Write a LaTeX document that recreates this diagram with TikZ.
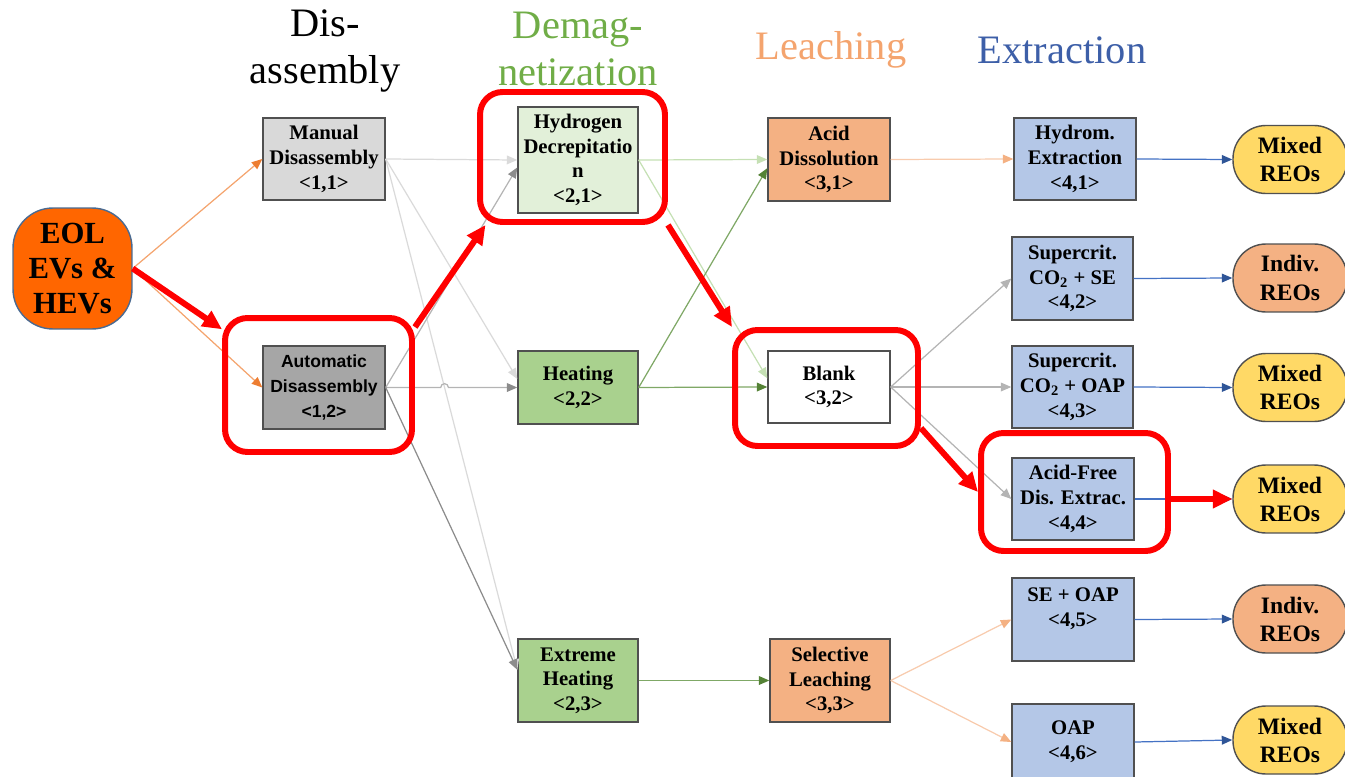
\documentclass[tikz,border=0pt]{standalone}
\usepackage{fontspec}
\setmainfont{Liberation Serif}
\newfontfamily\tahomalike{Liberation Sans}
\usetikzlibrary{arrows.meta}

\definecolor{eolfill}{HTML}{FF6600}
\definecolor{eoledge}{HTML}{4A6A91}
\definecolor{boxedge}{HTML}{505050}
\definecolor{manfill}{HTML}{D9D9D9}
\definecolor{autofill}{HTML}{A6A6A6}
\definecolor{hydfill}{HTML}{E2F0D9}
\definecolor{heatfill}{HTML}{A9D18E}
\definecolor{leachfill}{HTML}{F4B183}
\definecolor{extrfill}{HTML}{B4C7E7}
\definecolor{mixfill}{HTML}{FFD966}
\definecolor{demaggreen}{HTML}{70AD47}
\definecolor{leachtext}{HTML}{F4A46E}
\definecolor{extrtext}{HTML}{3D5FA8}
\definecolor{pathred}{HTML}{FF0000}
\definecolor{orangeln}{HTML}{F4A46E}
\definecolor{orangehd}{HTML}{ED7D31}
\definecolor{grayfaint}{HTML}{DADADA}
\definecolor{graymid}{HTML}{B4B4B4}
\definecolor{graydark}{HTML}{8C8C8C}
\definecolor{greenfaint}{HTML}{C5E0B4}
\definecolor{greenln}{HTML}{7FA866}
\definecolor{greenhd}{HTML}{548235}
\definecolor{peachln}{HTML}{F8CBAD}
\definecolor{peachhd}{HTML}{F4B183}
\definecolor{blueln}{HTML}{4472C4}
\definecolor{bluehd}{HTML}{2F5597}

\begin{document}
\begin{tikzpicture}[x=0.02cm,y=-0.02cm,
    stage/.style={draw=boxedge,line width=0.8pt,minimum width=2.44cm,minimum height=1.64cm,
      inner sep=1pt,align=center,font=\fontsize{11.8}{14}\selectfont\bfseries},
    reo/.style={draw=boxedge,line width=0.8pt,rounded corners=0.66cm,minimum width=2.28cm,
      minimum height=1.36cm,align=center,font=\fontsize{13.4}{16}\selectfont\bfseries},
    header/.style={align=center,font=\fontsize{23}{26.7}\selectfont},
    wire/.style={line width=0.7pt},
    arrowcol/.style={-{Triangle[length=6pt,width=5pt,color=#1]}},
    route/.style={draw=pathred,line width=3.4pt,-{Triangle[length=11pt,width=10pt]}},
    hilite/.style={draw=pathred,line width=3.4pt,rounded corners=0.45cm}]
  \useasboundingbox (0,0) rectangle (1345,777);
  \clip (0,0) rectangle (1345,777);

  % stage headings
  \node[header] (hdrDis) at (325,51) {Dis-\\assembly};
  \node[header,text=demaggreen] (hdrDemag) at (578,49) {Demag-\\netization};
  \node[header,text=leachtext] (hdrLeach) at (831,50) {Leaching};
  \node[header,text=extrtext] (hdrExtr) at (1062,50) {Extraction};

  % source
  \node[draw=eoledge,line width=0.8pt,fill=eolfill,rounded corners=0.8cm,minimum width=2.38cm,
    minimum height=2.42cm,align=center,font=\fontsize{17.5}{20}\selectfont\bfseries]
    (eol) at (72.5,268.5) {EOL\\EVs \&\\HEVs};

  % process boxes
  \node[stage,fill=manfill] (man) at (324,159) {Manual\\Disassembly\\<1,1>};
  \node[stage,fill=autofill,minimum height=1.66cm,font=\tahomalike\fontsize{10}{14.2}\selectfont\bfseries]
    (auto) at (324,387.5) {Automatic\\Disassembly\\<1,2>};
  \node[stage,fill=hydfill,minimum width=2.4cm,minimum height=2.12cm] (hyd) at (578,160)
    {Hydrogen\\Decrepitatio\\n\\<2,1>};
  \node[stage,fill=heatfill,minimum width=2.4cm,minimum height=1.46cm] (heat) at (578,387.5)
    {Heating\\<2,2>};
  \node[stage,fill=heatfill,minimum width=2.4cm,minimum height=1.66cm] (xheat) at (578,680.5)
    {Extreme\\Heating\\<2,3>};
  \node[stage,fill=leachfill,minimum height=1.66cm] (acid) at (829,159.5) {Acid\\Dissolution\\<3,1>};
  \node[stage,fill=white,minimum height=1.44cm] (blank) at (829,387) {Blank\\<3,2>};
  \node[stage,fill=leachfill,minimum width=2.4cm,minimum height=1.66cm] (sel) at (830,680.5)
    {Selective\\Leaching\\<3,3>};
  \node[stage,fill=extrfill] (hydm) at (1075,159) {Hydrom.\\Extraction\\<4,1>};
  \node[stage,fill=extrfill,minimum width=2.42cm,minimum height=1.66cm] (sc1) at (1072.5,278.5)
    {Supercrit.\\CO\textsubscript{2} + SE\\<4,2>};
  \node[stage,fill=extrfill,minimum width=2.42cm] (sc2) at (1072.5,387)
    {Supercrit.\\CO\textsubscript{2} + OAP\\<4,3>};
  \node[stage,fill=extrfill] (afd) at (1073,499) {Acid-Free\\Dis. Extrac.\\<4,4>};
  \node[stage,fill=extrfill,minimum height=1.66cm] (seo) at (1073,619.5) {SE + OAP\\<4,5>\\ };
  \node[stage,fill=extrfill,minimum height=1.52cm] (oap) at (1073,742) {OAP\\<4,6>};

  % products
  \foreach \i/\y/\c/\t in {1/159.5/mixfill/Mixed,2/278/leachfill/Indiv.,3/387.5/mixfill/Mixed,
      4/499/mixfill/Mixed,5/619/leachfill/Indiv.,6/740/mixfill/Mixed}
    \node[reo,fill=\c] (oxide\i) at (1290,\y) {\t\\REOs};

  % disassembly
  \draw[wire,draw=orangeln,arrowcol=orangehd] (eol.east) -- (man.west);
  \draw[wire,draw=orangeln,arrowcol=orangehd] (eol.east) -- (auto.west);

  % demagnetization
  \draw[wire,draw=grayfaint,arrowcol=grayfaint] (man.east) -- (hyd.west);
  \draw[wire,draw=grayfaint,arrowcol=grayfaint] (man.east) -- (heat.172);
  \draw[wire,draw=grayfaint,arrowcol=grayfaint] (man.east) -- (xheat.170);
  \draw[wire,draw=graymid,arrowcol=graydark] (auto.east) -- (hyd.187);
  \draw[wire,draw=graymid,arrowcol=graydark] (auto.east) -- ++(55,0)
    arc[start angle=180,end angle=0,radius=2.2pt] -- (heat.west);
  \draw[wire,draw=graydark,arrowcol=graydark] (auto.east) -- (xheat.170);

  % leaching
  \draw[wire,draw=greenfaint,arrowcol=greenfaint] (hyd.east) -- (acid.west);
  \draw[wire,draw=greenfaint,arrowcol=greenfaint] (hyd.east) -- (blank.172);
  \draw[wire,draw=greenln,arrowcol=greenhd] (heat.east) -- (acid.188);
  \draw[wire,draw=greenln,arrowcol=greenhd] (heat.east) -- (blank.west);
  \draw[wire,draw=greenln,arrowcol=greenhd] (xheat.east) -- (sel.west);

  % extraction
  \draw[wire,draw=peachln,arrowcol=peachhd] (acid.east) -- (hydm.west);
  \draw[wire,draw=graymid,arrowcol=graymid] (blank.east) -- (sc1.west);
  \draw[wire,draw=graymid,arrowcol=graymid] (blank.east) -- (sc2.west);
  \draw[wire,draw=graymid,arrowcol=graymid] (blank.east) -- (afd.west);
  \draw[wire,draw=peachln,arrowcol=peachhd] (sel.east) -- (seo.west);
  \draw[wire,draw=peachln,arrowcol=peachhd] (sel.east) -- (oap.west);
  \foreach \src/\dst in {hydm/oxide1,sc1/oxide2,sc2/oxide3,afd/oxide4,seo/oxide5,oap/oxide6}
    \draw[wire,draw=blueln,arrowcol=bluehd] (\src.east) -- (\dst.west);

  % chosen route
  \node[hilite,minimum width=3.74cm,minimum height=2.68cm] (hA) at (318.5,385) {};
  \node[hilite,minimum width=3.7cm,minimum height=2.6cm] (hB) at (572.5,157) {};
  \node[hilite,minimum width=3.66cm,minimum height=2.32cm] (hC) at (826.5,388) {};
  \node[hilite,minimum width=3.74cm,minimum height=2.36cm] (hD) at (1074.5,492) {};
  \draw[route] (eol.east) -- (hA.150);
  \draw[route] (hA.31) -- (hB.218);
  \draw[route] (hB.south east) -- (hC.north west);
  \draw[route] (hC.-23) -- (hD.west);
  \draw[route] (hD.east |- oxide4.west) -- (oxide4.west);
\end{tikzpicture}
\end{document}
